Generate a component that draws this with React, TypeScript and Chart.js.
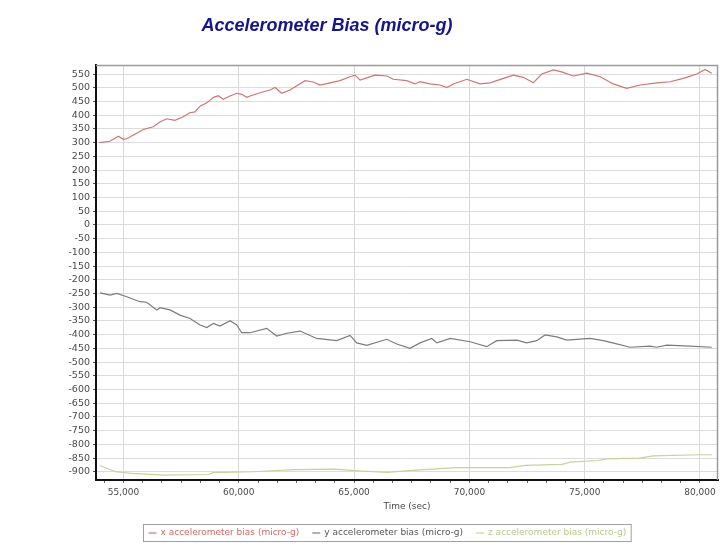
import React, { useEffect, useRef } from "react";
import { Chart, registerables } from "chart.js";

Chart.register(...registerables);

const chartTitle = "Accelerometer Bias (micro-g)";
const xAxisTitle = "Time (sec)";
const seriesLabels = [
  "x accelerometer bias (micro-g)",
  "y accelerometer bias (micro-g)",
  "z accelerometer bias (micro-g)",
];
const seriesColors = ["#d27470", "#7c7c7c", "#c4d49c"];
const legendTextColors = ["#d06a66", "#555555", "#b9c98f"];

const yTickValues = [
  550, 500, 450, 400, 350, 300, 250, 200, 150, 100, 50, 0, -50, -100, -150,
  -200, -250, -300, -350, -400, -450, -500, -550, -600, -650, -700, -750,
  -800, -850, -900,
];
const xMajorTicks = [55000, 60000, 65000, 70000, 75000, 80000];

const xTime = [
  53950, 54410, 54780, 54990, 55140, 55570, 55860, 56290, 56580, 56870, 57230,
  57590, 57880, 58100, 58320, 58610, 58900, 59110, 59330, 59620, 59910, 60130,
  60340, 60490, 60920, 61350, 61570, 61860, 62220, 62870, 63230, 63520, 63960,
  64390, 64820, 65040, 65260, 65910, 66420, 66700, 67280, 67640, 67860, 68290,
  68730, 69020, 69300, 69890, 70460, 70900, 71470, 71910, 72340, 72770, 73140,
  73640, 74000, 74510, 75090, 75670, 76240, 76820, 77400, 78130, 78700, 79280,
  79860, 80220, 80510,
];
const xBias = [
  300, 305, 323, 312, 314, 334, 348, 358, 375, 387, 381, 394, 409, 412, 433,
  445, 465, 471, 458, 470, 480, 476, 465, 470, 482, 492, 501, 480, 492, 526,
  521, 510, 518, 526, 540, 546, 528, 546, 543, 531, 526, 514, 522, 514, 510,
  501, 514, 531, 514, 518, 534, 546, 538, 518, 550, 565, 558, 543, 553, 540,
  514, 498, 510, 518, 522, 534, 550, 567, 553,
];

const yTime = [
  53985, 54415, 54705, 55140, 55715, 56005, 56440, 56585, 57015, 57450, 57885,
  58320, 58610, 58895, 59185, 59620, 59910, 60125, 60485, 61210, 61645, 62080,
  62655, 63380, 64245, 64825, 65115, 65550, 66415, 66850, 67425, 67860, 68365,
  68585, 69170, 70035, 70750, 71185, 72055, 72485, 72920, 73280, 73790, 74220,
  75230, 75810, 76390, 76965, 77835, 78125, 78560, 79570, 80510,
];
const yBias = [
  -248, -256, -250, -262, -280, -282, -310, -302, -310, -329, -341, -365, -374,
  -359, -369, -349, -365, -393, -393, -377, -405, -395, -387, -414, -422, -403,
  -430, -439, -417, -434, -450, -430, -414, -430, -414, -426, -444, -422, -420,
  -430, -422, -401, -408, -420, -414, -422, -434, -446, -442, -446, -438, -442,
  -446,
];

const zTime = [
  53980, 54650, 55350, 56760, 58700, 58870, 60630, 62390, 64150, 65210, 66440,
  67680, 69440, 71730, 72430, 74020, 74370, 75600, 75950, 77360, 77980, 80000,
  80530,
];
const zBias = [
  -877, -900, -906, -912, -910, -903, -900, -892, -890, -897, -902, -894, -885,
  -885, -877, -873, -865, -859, -853, -850, -842, -838, -838,
];

const FONT = '"DejaVu Sans", Verdana, sans-serif';

const toPoints = (t: number[], v: number[]) =>
  t.map((x, i) => ({ x, y: v[i] }));

const titlePlugin = {
  id: "customTitle",
  afterDraw(chart: any) {
    const ctx = chart.ctx;
    ctx.save();
    ctx.font = 'italic bold 18px "Liberation Sans", Arial, sans-serif';
    ctx.fillStyle = "#14148c";
    ctx.textAlign = "center";
    ctx.textBaseline = "alphabetic";
    ctx.fillText(chartTitle, 327, 31);
    ctx.restore();
  },
};

const framePlugin = {
  id: "frame",
  afterDatasetsDraw(chart: any) {
    const { ctx, chartArea } = chart;
    ctx.save();
    ctx.strokeStyle = "#9a9a9a";
    ctx.lineWidth = 1.5;
    ctx.beginPath();
    ctx.moveTo(chartArea.left, chartArea.top + 0.5);
    ctx.lineTo(chartArea.right - 0.5, chartArea.top + 0.5);
    ctx.lineTo(chartArea.right - 0.5, chartArea.bottom);
    ctx.stroke();
    ctx.restore();
  },
};

const legendPlugin = {
  id: "boxLegend",
  afterDraw(chart: any) {
    const ctx = chart.ctx;
    ctx.save();
    ctx.font = `9px ${FONT}`;
    const dash = 8;
    const dashGap = 4;
    const itemGap = 13;
    const padX = 5;
    const widths = seriesLabels.map((l) => dash + dashGap + ctx.measureText(l).width);
    const total =
      widths.reduce((a, b) => a + b, 0) + itemGap * (widths.length - 1) + padX * 2;
    const cx = 387;
    const left = Math.round(cx - total / 2) + 0.5;
    const top = 524.5;
    const h = 17;
    ctx.strokeStyle = "#a0a0a0";
    ctx.lineWidth = 1;
    ctx.strokeRect(left, top, total, h);
    let x = left + padX;
    const yMid = top + h / 2;
    seriesLabels.forEach((label, i) => {
      ctx.strokeStyle = seriesColors[i];
      ctx.lineWidth = 1.2;
      ctx.beginPath();
      ctx.moveTo(x, yMid);
      ctx.lineTo(x + dash, yMid);
      ctx.stroke();
      ctx.fillStyle = legendTextColors[i];
      ctx.textBaseline = "middle";
      ctx.textAlign = "left";
      ctx.fillText(label, x + dash + dashGap, yMid);
      x += widths[i] + itemGap;
    });
    ctx.restore();
  },
};

export default function App() {
  const canvasRef = useRef<HTMLCanvasElement | null>(null);

  useEffect(() => {
    if (!canvasRef.current) return;
    const data = {
      datasets: [
        { label: seriesLabels[0], data: toPoints(xTime, xBias), borderColor: seriesColors[0] },
        { label: seriesLabels[1], data: toPoints(yTime, yBias), borderColor: seriesColors[1] },
        { label: seriesLabels[2], data: toPoints(zTime, zBias), borderColor: seriesColors[2] },
      ].map((d) => ({
        ...d,
        borderWidth: 1.2,
        pointRadius: 0,
        tension: 0,
        fill: false,
      })),
    };
    const chart = new Chart(canvasRef.current, {
      type: "line",
      data,
      options: {
        animation: false,
        responsive: true,
        maintainAspectRatio: false,
        layout: { padding: { top: 65, right: 8, left: 0, bottom: 38 } },
        plugins: {
          legend: { display: false },
          title: { display: false },
          tooltip: { enabled: false },
        },
        scales: {
          x: {
            type: "linear",
            min: 53807,
            max: 80781,
            afterBuildTicks: (scale: any) => {
              const ticks: any[] = [];
              xMajorTicks.forEach((m, idx) => {
                for (let k = 0; k < 6; k++) {
                  const v = m + (k * 5000) / 6;
                  if (v >= scale.min && v <= scale.max) ticks.push({ value: v });
                }
                if (idx === 0) {
                  for (let k = 1; k < 6; k++) {
                    const v = m - (k * 5000) / 6;
                    if (v >= scale.min) ticks.push({ value: v });
                  }
                }
              });
              ticks.sort((a, b) => a.value - b.value);
              scale.ticks = ticks;
            },
            afterFit: (scale: any) => {
              scale.height = 32;
            },
            ticks: {
              autoSkip: false,
              maxRotation: 0,
              padding: 4,
              color: "#4a4a4a",
              font: { family: FONT, size: 9 },
              callback: (v: any) =>
                xMajorTicks.includes(Math.round(v))
                  ? Math.round(v).toLocaleString("en-US")
                  : "",
            },
            grid: {
              color: (c: any) =>
                c.tick && xMajorTicks.includes(Math.round(c.tick.value))
                  ? "#d8d8d8"
                  : "rgba(0,0,0,0)",
              tickColor: "#666",
              tickLength: 3,
              lineWidth: 1,
            },
            border: { display: true, color: "#111", width: 2 },
            title: {
              display: true,
              text: xAxisTitle,
              color: "#4a4a4a",
              font: { family: FONT, size: 9 },
              padding: { top: 0, bottom: 0 },
            },
          },
          y: {
            type: "linear",
            min: -930,
            max: 583,
            afterBuildTicks: (scale: any) => {
              scale.ticks = yTickValues.map((v) => ({ value: v }));
            },
            afterFit: (scale: any) => {
              scale.width = 96;
            },
            ticks: {
              autoSkip: false,
              padding: 3,
              color: "#4a4a4a",
              font: { family: FONT, size: 9.5 },
              callback: (v: any) => String(v),
            },
            grid: {
              color: "#dcdcdc",
              tickColor: "#555",
              tickLength: 3,
              lineWidth: 1,
            },
            border: { display: true, color: "#111", width: 2 },
          },
        },
      },
      plugins: [titlePlugin, framePlugin, legendPlugin],
    });
    return () => chart.destroy();
  }, []);

  return (
    <div
      style={{
        position: "absolute",
        left: 0,
        top: 0,
        width: 726,
        height: 550,
        background: "#fff",
      }}
    >
      <canvas ref={canvasRef} />
    </div>
  );
}
